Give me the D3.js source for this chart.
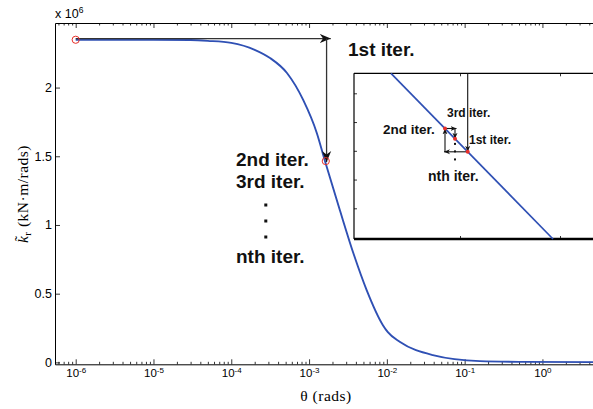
<!DOCTYPE html>
<html><head><meta charset="utf-8">
<script src="https://cdn.jsdelivr.net/npm/d3@7"></script>
<style>
html,body{margin:0;padding:0;background:#fff;}
svg{display:block;}
</style></head>
<body>
<svg id="c" width="593" height="409"></svg>
<script>
// ---- data ----
const thetaVals = [1e-6, 1e-5, 3e-5, 5e-5, 1e-4, 2e-4, 3.15e-4, 5.2e-4, 8.4e-4, 1.26e-3, 1.6e-3, 2.49e-3, 3.78e-3, 5.5e-3, 8.9e-3, 1.03e-2, 1.48e-2, 3.9e-2, 0.157, 0.5, 4.5];
const kVals     = [2.348, 2.348, 2.346, 2.340, 2.325, 2.275, 2.215, 2.106, 1.91, 1.668, 1.465, 1.107, 0.781, 0.526, 0.271, 0.22, 0.148, 0.053, 0.009, 0.004, 0.002]; // x 10^6
const xTickExps = [-6, -5, -4, -3, -2, -1, 0];
const yTickVals = [0, 0.5, 1, 1.5, 2];
const iterTheta = [1e-6, 1.64e-3];
const iterK     = [2.348, 1.465];
const annoLabels = ["1st iter.", "2nd iter.", "3rd iter.", "nth iter."];
// inset (zoomed view, abstract units)
const insetLineX = [-0.69, 0.93];
const insetLineY = [5.696, -0.068];
const insetIterX = [0.077, -0.15, -0.05];
const insetIterY = [2.965, 3.776, 3.417];
const insetDotsY = [3.24, 2.98, 2.70];
const insetXTicks = [0, 1];
const insetYTicks = [1, 2, 3, 4, 5];

// ---- layout ----
const svg = d3.select("#c");
const L = 55, R = 593, T = 23, B = 364.3;
const x = d3.scaleLog().domain([Math.pow(10,-6.266), Math.pow(10,0.65)]).range([L, R]);
const y = d3.scaleLinear().domain([-0.014, 2.47]).range([B, T]);
const blue = "#2f50b4";
const sans = "'Liberation Sans', Arial, Helvetica, sans-serif";
const serif = "'Liberation Serif', 'Times New Roman', serif";

const defs = svg.append("defs");
function marker(id, size){
  defs.append("marker").attr("id", id).attr("viewBox","-10 -5 10 10")
    .attr("refX",0).attr("refY",0).attr("markerWidth",size).attr("markerHeight",size)
    .attr("markerUnits","userSpaceOnUse").attr("orient","auto")
    .append("path").attr("d","M0,0 L-10,-4.2 L-7,0 L-10,4.2Z").attr("fill","#111");
}
marker("ah", 11); marker("ahs", 6);
defs.append("clipPath").attr("id","plotclip").append("rect").attr("x",L).attr("y",T).attr("width",R-L).attr("height",B-T);

// minor ticks
const minors = [];
for (let e=-7; e<=0; e++) for (let m=2; m<=9; m++){ const v=m*Math.pow(10,e); if (v>=x.domain()[0] && v<=x.domain()[1]) minors.push(v); }
const majors = xTickExps.map(e=>Math.pow(10,e));

function styleAxis(g){ g.selectAll("line").attr("stroke","#000").attr("stroke-width",0.8); g.select(".domain").attr("stroke","#000").attr("stroke-width",1); }

// bottom axis
const gB = svg.append("g").attr("transform",`translate(0,${B})`)
  .call(d3.axisBottom(x).tickValues(majors).tickSizeInner(-5).tickSizeOuter(0).tickPadding(5).tickFormat(()=>""));
styleAxis(gB);
gB.selectAll(".tick text").each(function(d){
  const t = d3.select(this);
  const e = Math.round(Math.log10(d));
  t.attr("font-family", sans).attr("font-size","11.5px").attr("fill","#000");
  t.append("tspan").text("10");
  t.append("tspan").attr("dy","-0.6em").attr("font-size","8px").text(String(e));
});
const gBm = svg.append("g").attr("transform",`translate(0,${B})`)
  .call(d3.axisBottom(x).tickValues(minors).tickSizeInner(-2.5).tickSizeOuter(0).tickFormat(()=>""));
styleAxis(gBm); gBm.select(".domain").remove();
// top axis
const gT = svg.append("g").attr("transform",`translate(0,${T})`)
  .call(d3.axisTop(x).tickValues(majors).tickSizeInner(-5).tickSizeOuter(0).tickFormat(()=>""));
styleAxis(gT);
const gTm = svg.append("g").attr("transform",`translate(0,${T})`)
  .call(d3.axisTop(x).tickValues(minors).tickSizeInner(-2.5).tickSizeOuter(0).tickFormat(()=>""));
styleAxis(gTm); gTm.select(".domain").remove();
// left axis
const gL = svg.append("g").attr("transform",`translate(${L},0)`)
  .call(d3.axisLeft(y).tickValues(yTickVals).tickSizeInner(-5).tickSizeOuter(0).tickPadding(3).tickFormat(d3.format("")));
styleAxis(gL);
gL.selectAll(".tick text").attr("font-family", sans).attr("font-size","12.5px").attr("fill","#000");
svg.selectAll("g").attr("font-family", null);

// x 10^6
const sc = svg.append("text").attr("x",L).attr("y",18).attr("font-family",sans).attr("font-size","12.5px");
sc.append("tspan").text("x 10");
sc.append("tspan").attr("dy","-0.6em").attr("font-size","8.5px").text("6");

// axis titles
svg.append("text").attr("x",326).attr("y",401).attr("text-anchor","middle")
  .attr("font-family",serif).attr("font-size","15.5px").attr("letter-spacing","0.5px").text("θ (rads)");
const yl = svg.append("text").attr("transform","translate(28,194) rotate(-90)").attr("text-anchor","middle")
  .attr("font-family",serif).attr("font-size","15.5px").attr("letter-spacing","0.5px");
yl.append("tspan").attr("font-style","italic").text("k\u0303");
yl.append("tspan").attr("dy","3").attr("font-size","11px").text("r");
yl.append("tspan").attr("dy","-3").text(" (kN·m/rads)");

// curve
const pts = thetaVals.map((t,i)=>[t,kVals[i]]);
const line = d3.line().x(d=>x(d[0])).y(d=>y(d[1])).curve(d3.curveMonotoneX);
svg.append("path").attr("d", line(pts)).attr("fill","none").attr("stroke",blue).attr("stroke-width",1.9)
  .attr("clip-path","url(#plotclip)");

// main iteration arrows
const x0 = x(iterTheta[0]), y0 = y(iterK[0]) - 1.2, x1 = x(iterTheta[1]), y1 = y(iterK[1]);
svg.append("line").attr("x1",x0).attr("y1",y0).attr("x2",x1+5).attr("y2",y0)
  .attr("stroke","#333").attr("stroke-width",1.3).attr("marker-end","url(#ah)");
svg.append("line").attr("x1",x1+0.8).attr("y1",y0).attr("x2",x1+0.8).attr("y2",y1+1)
  .attr("stroke","#333").attr("stroke-width",1.3).attr("marker-end","url(#ah)");
svg.selectAll("circle.it").data(iterTheta).join("circle").attr("class","it")
  .attr("cx",(d)=>x(d)).attr("cy",(d,i)=>y(iterK[i])).attr("r",3.6)
  .attr("fill","none").attr("stroke","#e8302a").attr("stroke-width",1);

// main labels
const bold = {"font-family":sans,"font-weight":"bold","font-size":"19px","fill":"#111"};
function txt(s,xx,yy,st){ const t=svg.append("text").attr("x",xx).attr("y",yy).text(s); for(const k in st) t.attr(k,st[k]); return t; }
txt(annoLabels[0],348,56,bold);
txt(annoLabels[1],236,166,bold);
txt(annoLabels[2],236,188,bold);
txt(annoLabels[3],236,263,bold);
[205,221,237].forEach(v=>svg.append("rect").attr("x",264.3).attr("y",v-1.5).attr("width",3).attr("height",3).attr("fill","#111"));

// ---- inset ----
const IL = 354, IT = 73.3, IB = 239, IR = 600;
const ix = d3.scaleLinear().domain([0,1]).range([460,560]);
const iy = d3.scaleLinear().domain([1,5]).range([208.3,93.3]);
svg.append("rect").attr("x",IL).attr("y",IT).attr("width",IR-IL).attr("height",IB-IT).attr("fill","#fff");
svg.append("line").attr("x1",IL).attr("y1",IT).attr("x2",IR).attr("y2",IT).attr("stroke","#000").attr("stroke-width",1.2);
svg.append("line").attr("x1",IL).attr("y1",IT).attr("x2",IL).attr("y2",IB).attr("stroke","#000").attr("stroke-width",1.2);
svg.append("line").attr("x1",IL).attr("y1",IB).attr("x2",IR).attr("y2",IB).attr("stroke","#000").attr("stroke-width",2.6);
const giL = svg.append("g").attr("transform",`translate(${IL},0)`).call(d3.axisLeft(iy).tickValues(insetYTicks).tickSizeInner(-3).tickSizeOuter(0).tickFormat(()=>""));
styleAxis(giL); giL.select(".domain").remove();
const giT = svg.append("g").attr("transform",`translate(0,${IT})`).call(d3.axisTop(ix).tickValues(insetXTicks).tickSizeInner(-3).tickSizeOuter(0).tickFormat(()=>""));
styleAxis(giT); giT.select(".domain").remove();
const giB = svg.append("g").attr("transform",`translate(0,${IB})`).call(d3.axisBottom(ix).tickValues(insetXTicks).tickSizeInner(-3).tickSizeOuter(0).tickFormat(()=>""));
styleAxis(giB); giB.select(".domain").remove();

svg.append("path").attr("d", d3.line().x(d=>ix(d[0])).y(d=>iy(d[1]))(insetLineX.map((v,i)=>[v,insetLineY[i]])))
  .attr("fill","none").attr("stroke",blue).attr("stroke-width",1.7);

const [a,b,c] = insetIterX.map((v,i)=>[ix(v), iy(insetIterY[i])]);
function iarrow(x1,y1,x2,y2,w){ svg.append("line").attr("x1",x1).attr("y1",y1).attr("x2",x2).attr("y2",y2)
  .attr("stroke","#111").attr("stroke-width",w||1.1).attr("marker-end","url(#ahs)"); }
iarrow(a[0], IT, a[0], a[1], 1.1);
iarrow(a[0], a[1], b[0]-1, a[1]);
iarrow(b[0], a[1], b[0], b[1]);
iarrow(b[0], b[1], c[0]+1.5, b[1]);
iarrow(c[0], b[1], c[0], c[1]);
[a,b,c].forEach(p=>svg.append("circle").attr("cx",p[0]).attr("cy",p[1]).attr("r",2).attr("fill","#e8302a"));
insetDotsY.forEach(v=>svg.append("rect").attr("x",ix(insetIterX[2])-1).attr("y",iy(v)-1).attr("width",2).attr("height",2).attr("fill","#111"));

txt(annoLabels[2],447,117,Object.assign({},bold,{"font-size":"12px"}));
txt(annoLabels[1],383,134,Object.assign({},bold,{"font-size":"13.5px"}));
txt(annoLabels[0],469,144,Object.assign({},bold,{"font-size":"12px"}));
txt(annoLabels[3],428,181,Object.assign({},bold,{"font-size":"14px"}));
</script>
</body></html>
